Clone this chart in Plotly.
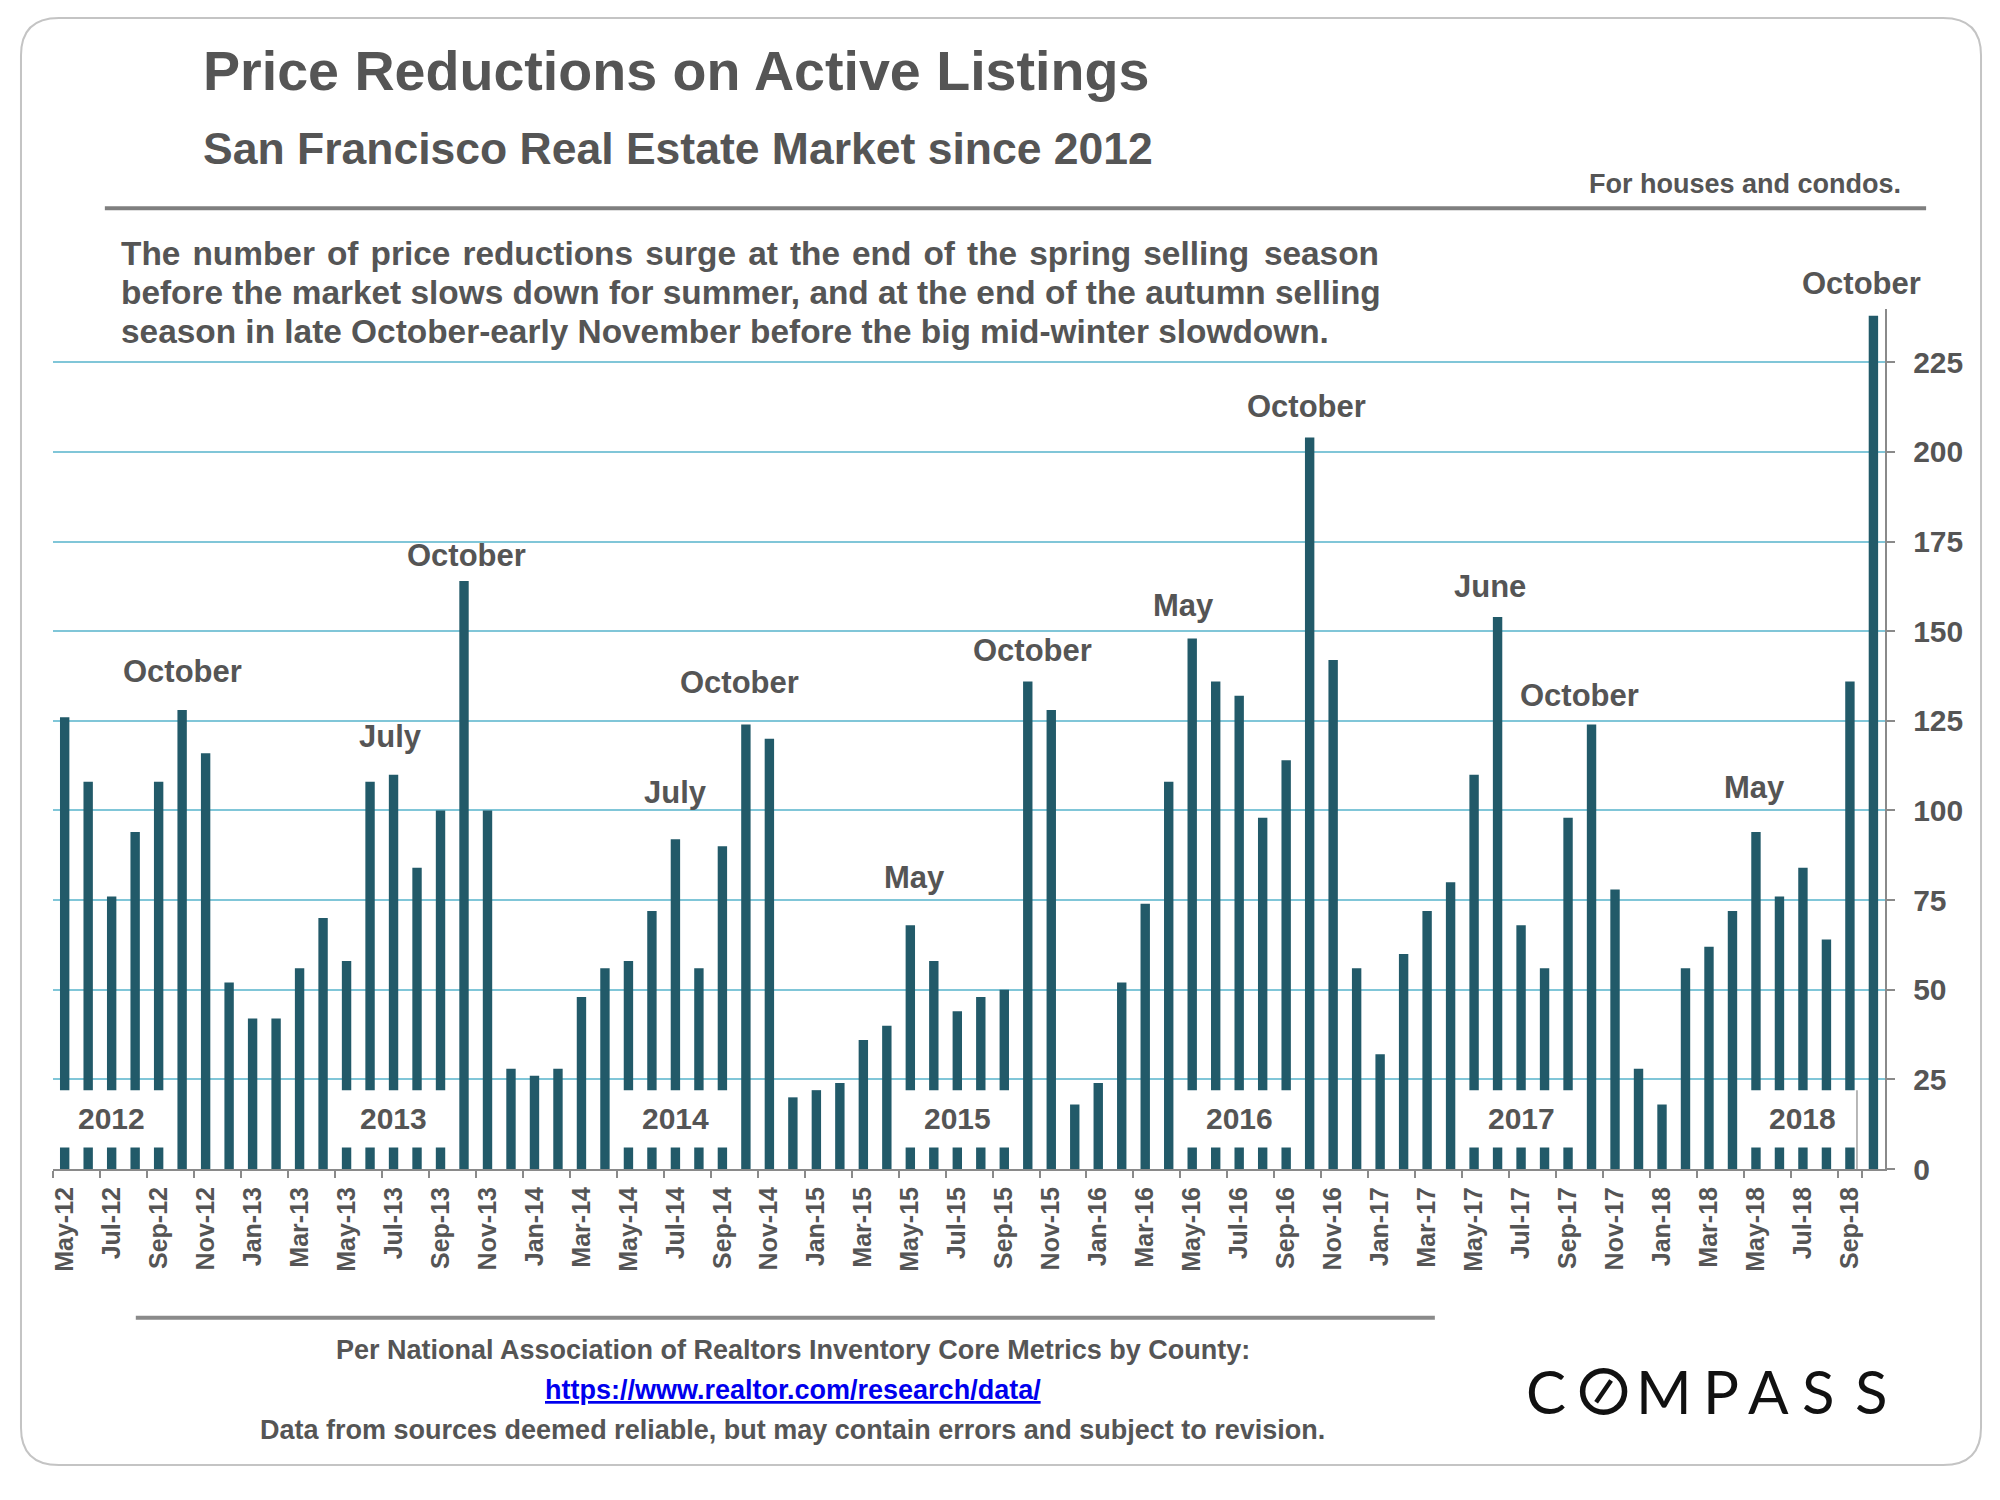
import plotly.graph_objects as go
import pandas as pd

# ---------------- DATA ----------------
months = pd.date_range("2012-05-01", "2018-10-01", freq="MS").strftime("%b-%y").tolist()
reductions = [126, 108, 76, 94, 108, 128, 116, 52,
              42, 42, 56, 70, 58, 108, 110, 84, 100, 164, 100, 28,
              26, 28, 48, 56, 58, 72, 92, 56, 90, 124, 120, 20,
              22, 24, 36, 40, 68, 58, 44, 48, 50, 136, 128, 18,
              24, 52, 74, 108, 148, 136, 132, 98, 114, 204, 142, 56,
              32, 60, 72, 80, 110, 154, 68, 56, 98, 124, 78, 28,
              18, 56, 62, 72, 94, 76, 84, 64, 136, 238]
y_ticks = [0, 25, 50, 75, 100, 125, 150, 175, 200, 225]
x_tick_labels = months[::2]
years = ["2012", "2013", "2014", "2015", "2016", "2017", "2018"]
year_mid_months = ["Jul-12", "Jul-13", "Jul-14", "Jul-15", "Jul-16", "Jul-17", "Jul-18"]
peak_months = ["Oct-12", "Jul-13", "Oct-13", "Jul-14", "Oct-14", "May-15", "Oct-15",
               "May-16", "Oct-16", "Jun-17", "Oct-17", "May-18", "Oct-18"]
peak_names = ["October", "July", "October", "July", "October", "May", "October",
              "May", "October", "June", "October", "May", "October"]

title = "Price Reductions on Active Listings"
subtitle = "San Francisco Real Estate Market since 2012"
note = "For houses and condos."
desc_lines = ["The number of price reductions surge at the end of the spring selling season",
              "before the market slows down for summer, and at the end of the autumn selling",
              "season in late October-early November before the big mid-winter slowdown."]
source1 = "Per National Association of Realtors Inventory Core Metrics by County:"
source_url = "https://www.realtor.com/research/data/"
source2 = "Data from sources deemed reliable, but may contain errors and subject to revision."

# ---------------- STYLE / LAYOUT ----------------
# The page body has an 8px margin, so the figure is 16px smaller than the
# 2000x1500 window and all reference pixel positions are shifted by 8.
OFF = 8
W, H = 2000 - 2 * OFF, 1500 - 2 * OFF
PL, PR, PT, PB = 50, 1885, 312, 1182.5
FONT = "Liberation Sans, Arial, sans-serif"
GREY = "#555555"
BAR = "#225a69"
GRID = "#80c6d8"
AXIS = "#8a8a8a"

label_dy = [39, 38, 26, 47, 42, 48, 31, 33, 31, 30, 29, 45, 32]
label_dx = [0, -3, 2, 0, -6, 4, 5, -9, -3, -8, -12, -1, -12]


def px(x):
    return (x - OFF) / W


def py(y):
    return 1 - (y - OFF) / H


def justify(line, n_extra, filler="\u200a"):
    """Widen a text line a little by spreading hair spaces over its gaps."""
    words = line.split(" ")
    gaps = len(words) - 1
    out = words[0]
    for g in range(1, len(words)):
        cnt = (g * n_extra) // gaps - ((g - 1) * n_extra) // gaps
        out += " " + filler * cnt + words[g]
    return out


fig = go.Figure()
fig.add_trace(go.Bar(x=months, y=reductions, marker=dict(color=BAR, line=dict(width=0)),
                     width=0.4, hoverinfo="x+y"))

annotations = []
shapes = []

# year boxes
for yr, mid in zip(years, year_mid_months):
    i = months.index(mid)
    shapes.append(dict(type="rect", xref="x", yref="y", x0=i - 2.5, x1=i + 2.5, y0=6, y1=22,
                       fillcolor="white", line=dict(width=0), layer="above"))
    annotations.append(dict(x=mid, y=14, xref="x", yref="y", text=yr, showarrow=False,
                            font=dict(family=FONT, size=30, color=GREY, weight="bold"),
                            xanchor="center", yanchor="middle"))
shapes.append(dict(type="line", xref="x", yref="y", x0=76.3, x1=76.3, y0=0, y1=22,
                   line=dict(color="#a0a0a0", width=1.5), layer="above"))

# peak labels
for m, name, dy, dx in zip(peak_months, peak_names, label_dy, label_dx):
    v = reductions[months.index(m)]
    annotations.append(dict(x=m, y=v, xref="x", yref="y", text=name, showarrow=False,
                            font=dict(family=FONT, size=31, color=GREY, weight="bold"),
                            xanchor="center", yanchor="middle", yshift=dy, xshift=dx))

# titles
annotations.append(dict(x=px(198), y=py(72), xref="paper", yref="paper", text=title, showarrow=False,
                        font=dict(family=FONT, size=55.6, color=GREY, weight="bold"),
                        xanchor="left", yanchor="middle"))
annotations.append(dict(x=px(198), y=py(150.5), xref="paper", yref="paper", text=subtitle, showarrow=False,
                        font=dict(family=FONT, size=44.5, color=GREY, weight="bold"),
                        xanchor="left", yanchor="middle"))
annotations.append(dict(x=px(1903), y=py(186), xref="paper", yref="paper", text=note, showarrow=False,
                        font=dict(family=FONT, size=27, color=GREY, weight="bold"),
                        xanchor="right", yanchor="middle"))
desc_render = [justify(desc_lines[0], 14), desc_lines[1], desc_lines[2]]
for k, line in enumerate(desc_render):
    annotations.append(dict(x=px(116), y=py(256 + 39.7 * k), xref="paper", yref="paper", text=line,
                            showarrow=False,
                            font=dict(family=FONT, size=33.4, color=GREY, weight="bold"),
                            xanchor="left", yanchor="middle"))

# footer
annotations.append(dict(x=px(791), y=py(1366), xref="paper", yref="paper", text=source1, showarrow=False,
                        font=dict(family=FONT, size=27, color=GREY, weight="bold"),
                        xanchor="center", yanchor="middle"))
annotations.append(dict(x=px(791), y=py(1405.6), xref="paper", yref="paper",
                        text="<u>" + source_url + "</u>", showarrow=False,
                        font=dict(family=FONT, size=27, color="#0000ee", weight="bold"),
                        xanchor="center", yanchor="middle"))
annotations.append(dict(x=px(791), y=py(1446), xref="paper", yref="paper", text=source2, showarrow=False,
                        font=dict(family=FONT, size=27, color=GREY, weight="bold"),
                        xanchor="center", yanchor="middle"))

# COMPASS logo (letters placed individually, O drawn as ring with slash)
logo_letters = [("C", 1545), ("M", 1664), ("P", 1721), ("A", 1768), ("S", 1818), ("S", 1871)]
for ch, cx in logo_letters:
    annotations.append(dict(x=px(cx), y=py(1407.5), xref="paper", yref="paper", text=ch, showarrow=False,
                            font=dict(family="Lato, Noto Sans, sans-serif", size=60, color="#111111"),
                            xanchor="center", yanchor="middle"))
ocx, ocy, orad = 1603, 1407.5, 21
shapes.append(dict(type="circle", xref="paper", yref="paper",
                   x0=px(ocx - orad), x1=px(ocx + orad), y0=py(ocy + orad), y1=py(ocy - orad),
                   line=dict(color="#111111", width=5.5)))
shapes.append(dict(type="line", xref="paper", yref="paper",
                   x0=px(ocx - 7.5), y0=py(ocy + 11), x1=px(ocx + 7.5), y1=py(ocy - 11),
                   line=dict(color="#111111", width=4.5)))

# rule lines
shapes.append(dict(type="line", xref="paper", yref="paper", x0=px(102), x1=px(1926), y0=py(210.5), y1=py(210.5),
                   line=dict(color="#7f7f7f", width=4)))
shapes.append(dict(type="line", xref="paper", yref="paper", x0=px(133), x1=px(1434), y0=py(1333), y1=py(1333),
                   line=dict(color="#8a8a8a", width=4)))

# rounded border
bx0, by0, bx1, by1, r = 18, 18, 1981, 1482, 38


def P(x, y):
    return f"{px(x):.5f},{py(y):.5f}"


path = (f"M {P(bx0 + r, by0)} L {P(bx1 - r, by0)} Q {P(bx1, by0)} {P(bx1, by0 + r)} "
        f"L {P(bx1, by1 - r)} Q {P(bx1, by1)} {P(bx1 - r, by1)} "
        f"L {P(bx0 + r, by1)} Q {P(bx0, by1)} {P(bx0, by1 - r)} "
        f"L {P(bx0, by0 + r)} Q {P(bx0, by0)} {P(bx0 + r, by0)} Z")
shapes.append(dict(type="path", xref="paper", yref="paper", path=path,
                   line=dict(color="#c4c4c4", width=2), layer="below"))

fig.update_layout(
    width=W, height=H, autosize=False,
    margin=dict(l=0, r=0, t=0, b=0, pad=0),
    paper_bgcolor="white", plot_bgcolor="white",
    showlegend=False,
    annotations=annotations, shapes=shapes,
    xaxis=dict(type="category", domain=[px(PL), px(PR)], range=[-0.5, len(months) - 0.5],
               tickmode="array", tickvals=x_tick_labels, ticktext=x_tick_labels,
               tickangle=-90, ticks="outside", tickson="boundaries", ticklen=7, tickwidth=2,
               tickcolor=AXIS, showline=True, linecolor=AXIS, linewidth=2, showgrid=False,
               zeroline=False, ticklabelstandoff=6,
               tickfont=dict(family=FONT, size=25, color=GREY, weight="bold")),
    yaxis=dict(side="right", domain=[py(PB), py(PT)], range=[0, 240],
               tickmode="array", tickvals=y_ticks, ticks="outside", ticklen=8, tickwidth=2,
               tickcolor=AXIS, showline=True, linecolor=AXIS, linewidth=2,
               showgrid=True, gridcolor=GRID, gridwidth=1.5, zeroline=False,
               ticklabelstandoff=12,
               tickfont=dict(family=FONT, size=30, color=GREY, weight="bold")),
)

fig.write_html("out.html")
